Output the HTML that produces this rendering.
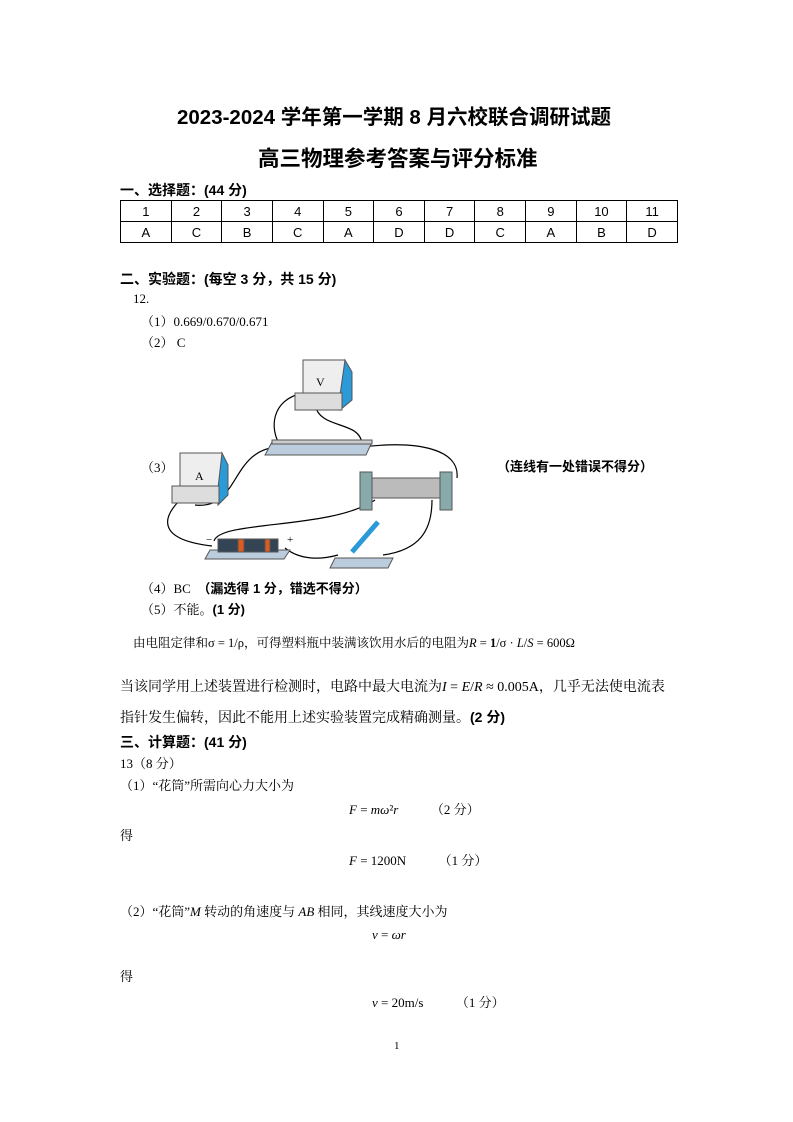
<!DOCTYPE html>
<html><head><meta charset="utf-8"><style>
body{margin:0;width:793px;height:1122px;background:#fff;position:relative;font-family:"Liberation Serif","Noto Serif CJK SC",serif;color:#000;overflow:hidden}
.t{position:absolute;white-space:nowrap;font-size:13px}
.b{font-family:"Liberation Sans","Noto Sans CJK SC",sans-serif;font-weight:bold}
table{position:absolute;left:120px;top:200px;width:558px;border-collapse:collapse;table-layout:fixed;font-family:"Liberation Sans",sans-serif;font-size:13px}
td{border:1px solid #000;height:20px;text-align:center;padding:0}
i{font-style:italic}
</style></head><body>
<div class="t b" style="left:177px;top:100px;font-size:20.5px">2023-2024 学年第一学期 8 月六校联合调研试题</div>
<div class="t b" style="left:258px;top:142px;font-size:21.5px">高三物理参考答案与评分标准</div>
<div class="t b" style="left:120px;top:180px;font-size:14px">一、选择题：(44 分)</div>
<table><tr><td>1</td><td>2</td><td>3</td><td>4</td><td>5</td><td>6</td><td>7</td><td>8</td><td>9</td><td>10</td><td>11</td></tr>
<tr><td>A</td><td>C</td><td>B</td><td>C</td><td>A</td><td>D</td><td>D</td><td>C</td><td>A</td><td>B</td><td>D</td></tr></table>
<div class="t b" style="left:120px;top:269px;font-size:14px">二、实验题：(每空 3 分，共 15 分)</div>
<div class="t" style="left:133px;top:291px">12.</div>
<div class="t" style="left:141px;top:311px">（1）0.669/0.670/0.671</div>
<div class="t" style="left:141px;top:332px">（2） C</div>
<div class="t" style="left:141px;top:457px">（3）</div>
<div class="t b" style="left:497px;top:456px">（连线有一处错误不得分）</div>
<svg style="position:absolute;left:0;top:0" width="793" height="1122">
<g fill="none" stroke="#000" stroke-width="1.2">
<path d="M303 393 C 270 400,270 430,280 445"/><path d="M315 405 C 320 430,360 420,362 444"/>
<path d="M278 447 C 230 450,240 510,195 505"/><path d="M362 447 C 420 440,460 450,457 478"/>
<path d="M180 500 C 160 520,160 540,212 546"/><path d="M214 541 C 220 520,330 530,375 500"/>
<path d="M285 548 C 300 560,320 560,338 555"/><path d="M383 555 C 420 550,432 530,432 500"/>
</g>
<g stroke="#555" stroke-width="1">
<rect x="303" y="360" width="42" height="33" fill="#eee"/><polygon points="345,360 352,372 352,400 340,410 340,395" fill="#2a9ad8"/>
<rect x="295" y="393" width="47" height="17" fill="#ddd"/>
<rect x="180" y="453" width="42" height="33" fill="#eee"/><polygon points="222,453 228,465 228,495 218,505 218,488" fill="#2a9ad8"/>
<rect x="172" y="486" width="47" height="17" fill="#ddd"/>
<polygon points="272,442 372,442 366,455 265,455" fill="#bcd"/><rect x="272" y="440" width="100" height="4" fill="#ccc"/>
<rect x="370" y="478" width="80" height="20" fill="#bbb"/><rect x="360" y="472" width="12" height="38" fill="#8aa"/><rect x="440" y="472" width="12" height="38" fill="#8aa"/>
<polygon points="210,550 290,550 284,559 205,559" fill="#bcd"/><rect x="218" y="539" width="60" height="13" fill="#345"/><rect x="238" y="539" width="6" height="13" fill="#e05a20"/><rect x="265" y="539" width="5" height="13" fill="#e05a20"/>
<polygon points="335,558 393,558 388,568 330,568" fill="#bcd"/><line x1="352" y1="552" x2="378" y2="522" stroke="#2a9ad8" stroke-width="5"/>
</g>
<text x="316" y="386" font-size="12" font-family="Liberation Serif">V</text><text x="195" y="480" font-size="12" font-family="Liberation Serif">A</text>
<text x="287" y="543" font-size="11">+</text><text x="206" y="543" font-size="11">−</text>
</svg>
<div class="t" style="left:141px;top:578px">（4）BC　<span class="b">（漏选得 1 分，错选不得分）</span></div>
<div class="t" style="left:141px;top:599px">（5）不能。<span class="b">(1 分)</span></div>
<div class="t" style="left:133px;top:633px;font-size:12.5px">由电阻定律和σ = 1/ρ，可得塑料瓶中装满该饮用水后的电阻为<i>R</i> = <b>1</b>/σ · <i>L</i>/<i>S</i> = 600Ω</div>
<div class="t" style="left:120px;top:676px;font-size:14px">当该同学用上述装置进行检测时，电路中最大电流为<i>I</i> = <i>E</i>/<i>R</i> ≈ 0.005A，几乎无法使电流表</div>
<div class="t" style="left:120px;top:707px;font-size:14px">指针发生偏转，因此不能用上述实验装置完成精确测量。<span class="b">(2 分)</span></div>
<div class="t b" style="left:120px;top:732px;font-size:14px">三、计算题：(41 分)</div>
<div class="t" style="left:120px;top:753px">13（8 分）</div>
<div class="t" style="left:120px;top:775px">（1）“花筒”所需向心力大小为</div>
<div class="t" style="left:349px;top:799px"><i>F</i> = <i>mω</i>²<i>r</i>　　　（2 分）</div>
<div class="t" style="left:120px;top:825px">得</div>
<div class="t" style="left:349px;top:850px"><i>F</i> = 1200N　　　（1 分）</div>
<div class="t" style="left:120px;top:901px">（2）“花筒”<i>M</i> 转动的角速度与 <i>AB</i> 相同，其线速度大小为</div>
<div class="t" style="left:372px;top:927px"><i>v</i> = <i>ωr</i></div>
<div class="t" style="left:120px;top:966px">得</div>
<div class="t" style="left:372px;top:992px"><i>v</i> = 20m/s　　　（1 分）</div>
<div class="t" style="left:394px;top:1040px;font-size:11px">1</div>
</body></html>
